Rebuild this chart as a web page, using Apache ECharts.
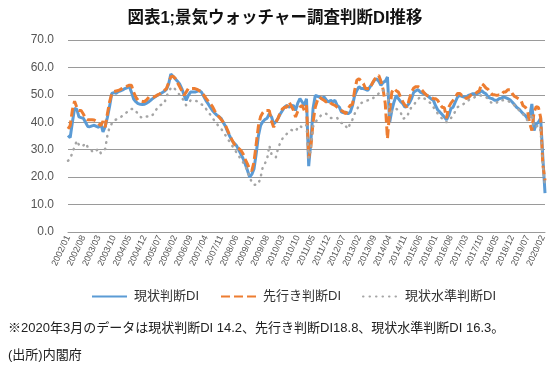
<!DOCTYPE html>
<html>
<head>
<meta charset="utf-8">
<script src="https://cdn.jsdelivr.net/npm/echarts@6/dist/echarts.min.js"></script>
<style>
html,body{margin:0;padding:0;background:#fff;}
#chart{width:550px;height:370px;}
</style>
</head>
<body>
<div id="chart"></div>
<script>
// ---- data ----
const titleText = "図表1;景気ウォッチャー調査判断DI推移";
const noteText = "※2020年3月のデータは現状判断DI 14.2、先行き判断DI18.8、現状水準判断DI 16.3。";
const sourceText = "(出所)内閣府";
const seriesNames = ["現状判断DI", "先行き判断DI", "現状水準判断DI"];
const yTicks = [0, 10, 20, 30, 40, 50, 60, 70];

// months 2002/01 .. 2020/03
const startYear = 2002, endYear = 2020, endMonth = 3;
const categories = [];
for (let y = startYear; y <= endYear; y++) {
  for (let m = 1; m <= 12; m++) {
    if (y === endYear && m > endMonth) break;
    categories.push(y + "/" + (m < 10 ? "0" + m : m));
  }
}

const currentDI = [
  35.2, 34.4, 40.0, 45.0, 44.8, 42.0, 41.7, 41.5, 40.0, 38.5, 38.4, 38.7,
  38.9, 38.5, 38.2, 39.4, 36.5, 38.5, 41.8, 45.8, 50.5, 50.8, 50.6, 51.2,
  51.5, 51.8, 52.3, 52.6, 53.1, 51.0, 48.5, 47.5, 46.8, 46.6, 46.5, 46.6,
  47.0, 47.5, 48.2, 48.8, 49.4, 49.9, 50.3, 50.8, 51.3, 52.0, 54.0, 57.6,
  56.8, 55.9, 55.0, 54.0, 52.3, 50.0, 48.0, 49.8, 51.0, 51.0, 51.0, 51.3,
  51.6, 51.0, 49.5, 48.0, 46.8, 45.5, 44.3, 43.4, 42.6, 42.0, 41.4, 39.8,
  38.5, 36.5, 34.8, 33.3, 32.3, 31.5, 30.0, 28.4, 26.8, 24.8, 22.5, 20.0,
  21.0, 23.0, 28.5, 35.0, 38.8, 40.2, 41.0, 41.5, 43.1, 42.0, 39.4, 40.2,
  41.5, 43.0, 44.3, 45.5, 46.2, 45.5, 45.8, 46.2, 44.3, 47.0, 48.6, 47.4,
  46.2, 48.6, 24.0, 33.0, 45.0, 49.8, 49.5, 49.2, 48.6, 49.2, 48.2, 47.4,
  48.0, 47.5, 48.0, 46.2, 45.5, 43.7, 43.5, 43.7, 43.1, 43.7, 46.0, 49.8,
  51.6, 53.0, 52.3, 52.3, 52.0, 51.6, 52.9, 54.0, 55.3, 55.9, 55.0, 53.5,
  54.5, 55.0, 56.5, 40.0, 44.3, 47.4, 49.8, 48.6, 47.5, 46.8, 45.5, 46.0,
  47.0, 48.6, 51.0, 51.5, 51.9, 51.0, 50.6, 50.4, 49.8, 49.2, 48.5, 48.0,
  46.0, 44.5, 43.7, 42.8, 41.9, 40.9, 42.5, 45.0, 45.5, 47.4, 49.2, 49.8,
  49.5, 49.2, 49.2, 49.8, 50.1, 50.4, 50.4, 50.4, 50.8, 51.6, 50.8, 50.4,
  49.2, 48.8, 48.6, 48.0, 48.0, 48.6, 48.8, 49.2, 49.0, 48.6, 48.2, 47.4,
  46.5, 45.5, 44.9, 44.0, 43.1, 42.5, 41.3, 42.0, 46.7, 37.0, 39.4, 40.0,
  41.5, 27.4, 14.2
];

const outlookDI = [
  37.6, 38.8, 44.5, 47.7, 45.5, 44.3, 44.3, 43.0, 41.5, 40.9, 40.9, 40.9,
  40.8, 40.4, 39.5, 38.8, 40.4, 38.2, 43.1, 47.4, 50.5, 51.2, 51.4, 51.6,
  52.0, 52.5, 52.9, 53.2, 53.5, 53.5, 51.0, 49.2, 48.0, 47.8, 47.6, 47.6,
  48.2, 49.2, 49.2, 49.2, 49.5, 50.0, 50.4, 51.0, 51.6, 52.3, 54.5, 56.5,
  56.8, 56.0, 54.5, 53.0, 51.5, 49.8, 51.0, 52.3, 52.3, 52.3, 52.3, 52.0,
  51.5, 51.0, 50.0, 48.8, 47.8, 46.8, 45.8, 44.2, 42.8, 42.0, 41.0, 40.0,
  38.8, 37.0, 35.0, 33.5, 32.0, 31.0, 30.5, 29.8, 28.5, 26.5, 24.8, 23.0,
  22.3, 25.5, 32.0, 38.5, 42.0, 43.5, 44.3, 44.3, 44.3, 40.5, 38.2, 40.0,
  41.5, 43.5, 44.9, 45.5, 45.5, 47.4, 46.0, 44.5, 41.9, 44.0, 45.5, 46.2,
  44.3, 46.2, 27.0, 31.0, 40.0, 45.5, 48.0, 49.2, 48.5, 48.0, 47.4, 47.8,
  47.0, 46.5, 46.2, 45.5, 44.9, 44.3, 43.8, 43.1, 44.9, 46.2, 46.5, 51.6,
  55.3, 55.9, 55.0, 54.1, 52.3, 52.3, 52.3, 54.1, 55.5, 56.5, 57.1, 55.0,
  52.0, 46.8, 34.0, 44.0, 51.0, 52.3, 51.5, 51.0, 49.2, 47.5, 46.2, 45.5,
  48.5, 51.0, 52.5, 53.0, 53.0, 52.5, 51.5, 50.5, 49.8, 49.5, 49.0, 48.6,
  48.6, 48.0, 46.5, 45.5, 45.3, 41.5, 45.5, 47.0, 48.0, 49.0, 50.5, 50.5,
  49.8, 50.0, 48.6, 49.0, 49.8, 50.4, 50.4, 51.0, 51.5, 54.1, 53.5, 52.5,
  52.0, 51.0, 50.0, 50.0, 49.8, 50.0, 50.0, 51.0, 51.0, 51.9, 51.9, 50.5,
  49.5, 49.0, 48.5, 48.0, 46.0, 45.5, 44.3, 39.7, 37.0, 43.7, 45.7, 45.4,
  41.8, 24.6, 18.8
];

const levelDI = [
  26.0, 26.6, 29.0, 31.0, 33.3, 31.8, 31.1, 31.5, 32.4, 31.0, 30.3, 29.5,
  29.0, 29.8, 30.3, 28.7, 29.5, 30.3, 35.2, 38.2, 39.5, 40.7, 41.0, 41.3,
  41.8, 42.5, 43.2, 43.7, 44.6, 44.8, 44.9, 44.0, 43.1, 42.0, 41.6, 42.0,
  42.1, 42.1, 42.1, 43.0, 44.3, 45.3, 46.2, 46.5, 46.8, 49.5, 51.0, 52.5,
  52.9, 52.0, 51.0, 50.0, 49.2, 47.5, 46.2, 47.0, 48.0, 48.0, 47.8, 47.7,
  47.2, 46.5, 46.2, 45.0, 43.7, 42.8, 41.6, 40.5, 39.4, 38.5, 37.6, 36.5,
  35.2, 34.0, 32.7, 31.5, 30.3, 29.0, 27.8, 26.5, 25.4, 24.0, 22.3, 20.0,
  18.1, 17.2, 17.3, 17.5, 19.9, 23.6, 25.0, 26.6, 31.5, 28.4, 27.5, 27.2,
  30.5, 32.5, 34.0, 35.0, 35.8, 36.5, 37.2, 37.0, 36.7, 38.0, 38.8, 38.0,
  38.5, 39.0, 27.0, 31.0, 38.5, 40.0, 41.0, 41.9, 42.9, 43.0, 43.1, 42.5,
  41.6, 41.6, 41.5, 41.6, 40.5, 39.7, 39.7, 38.5, 37.6, 39.7, 41.0, 43.1,
  44.5, 46.2, 47.0, 47.4, 47.7, 48.0, 48.0, 48.5, 49.2, 49.8, 50.5, 51.6,
  51.6, 51.6, 51.0, 42.5, 44.0, 44.9, 44.9, 44.5, 43.7, 41.3, 41.5, 42.0,
  44.3, 45.5, 46.2, 47.5, 48.5, 49.2, 49.0, 48.6, 48.0, 47.4, 46.8, 45.5,
  44.5, 43.1, 42.2, 41.3, 40.5, 40.0, 40.7, 41.5, 42.5, 44.0, 45.5, 46.0,
  46.2, 46.8, 47.4, 48.0, 48.6, 48.8, 49.2, 49.5, 49.8, 49.8, 49.5, 49.2,
  48.5, 47.4, 47.0, 46.8, 47.2, 48.0, 48.0, 48.0, 48.0, 47.8, 47.4, 47.0,
  46.2, 45.5, 44.5, 43.7, 43.0, 41.9, 40.7, 41.0, 43.1, 38.2, 38.5, 38.8,
  37.0, 24.5, 16.3
];

// ---- chart ----
const latin = "'Liberation Sans', Arial, 'Noto Sans CJK JP', sans-serif";
const cjk = "'Liberation Sans', 'Noto Sans CJK JP', sans-serif";
const chart = echarts.init(document.getElementById('chart'), null, {renderer: 'canvas'});
chart.setOption({
  animation: false,
  backgroundColor: '#ffffff',
  title: [
    {text: titleText, left: 'center', top: 5,
     textStyle: {fontSize: 16.5, fontWeight: 'bold', color: '#111', fontFamily: cjk}},
    {text: noteText, left: 3, top: 317,
     textStyle: {fontSize: 13, fontWeight: 'normal', color: '#222', fontFamily: cjk}},
    {text: sourceText, left: 3, top: 344,
     textStyle: {fontSize: 13, fontWeight: 'normal', color: '#222', fontFamily: cjk}}
  ],
  legend: {
    data: seriesNames,
    left: 86, top: 285,
    itemWidth: 35, itemHeight: 12, itemGap: 21,
    itemStyle: {opacity: 0},
    textStyle: {fontSize: 13, color: '#333', fontFamily: cjk, padding: [0, 0, 0, 2]}
  },
  grid: {left: 68, right: 5, top: 40, bottom: 138, containLabel: false},
  xAxis: {
    type: 'category',
    data: categories,
    boundaryGap: false,
    axisLine: {show: true, lineStyle: {color: '#9a9a9a', width: 1}},
    axisTick: {show: false},
    axisLabel: {interval: 6, rotate: 65, fontSize: 9, color: '#555', margin: 4, fontFamily: latin},
    splitLine: {show: false}
  },
  yAxis: {
    type: 'value',
    min: yTicks[0], max: yTicks[yTicks.length - 1], interval: 10,
    axisLine: {show: false},
    axisTick: {show: false},
    axisLabel: {fontSize: 12, color: '#555', margin: 14, fontFamily: latin,
      formatter: v => v.toFixed(1)},
    splitLine: {lineStyle: {color: '#9a9a9a', width: 1}}
  },
  series: [
    {name: seriesNames[0], type: 'line', data: currentDI, symbol: 'none',
     lineStyle: {color: '#5B9BD5', width: 3}, itemStyle: {color: '#5B9BD5'}, z: 2},
    {name: seriesNames[1], type: 'line', data: outlookDI, symbol: 'none',
     lineStyle: {color: '#ED7D31', width: 3, type: [9, 4]}, itemStyle: {color: '#ED7D31'}, z: 3},
    {name: seriesNames[2], type: 'line', data: levelDI, symbol: 'none',
     lineStyle: {color: '#A5A5A5', width: 2.5, type: [0.5, 6], cap: 'round'}, itemStyle: {color: '#A5A5A5'}, z: 4}
  ]
});
</script>
</body>
</html>
